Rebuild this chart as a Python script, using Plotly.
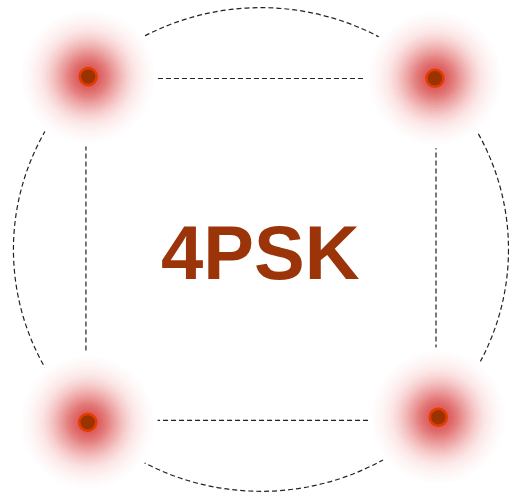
import math
import plotly.graph_objects as go

# ---- data ----
point_x = [-0.987, 0.994, -0.990, 1.013]
point_y = [1.011, 1.001, -1.011, -0.981]
ideal_x = [-1, 1, 1, -1]
ideal_y = [1, 1, -1, -1]
circle_radius = math.sqrt(2)
label = "4PSK"

# ---- styles ----
RED = (214, 40, 40)
N = 32
RMAX = 66.0
SIGMA = 23.5
AMP = 0.80

fig = go.Figure()

fig.add_shape(type="circle", xref="x", yref="y",
              x0=-circle_radius, x1=circle_radius, y0=-circle_radius, y1=circle_radius,
              line=dict(color="#222", width=1.2, dash="5px,3px"), layer="below")
sq_x = ideal_x + [ideal_x[0]]
sq_y = ideal_y + [ideal_y[0]]
fig.add_trace(go.Scatter(x=sq_x, y=sq_y, mode="lines",
                         line=dict(color="#222", width=1.2, dash="5px,3px"),
                         hoverinfo="skip"))

# white occluding disks
fig.add_trace(go.Scatter(x=point_x, y=point_y, mode="markers",
                         marker=dict(size=140, color="white", line=dict(width=0)),
                         hoverinfo="skip"))

def cov(r):
    return AMP * math.exp(-r * r / (2 * SIGMA * SIGMA))

radii = [RMAX * k / N for k in range(1, N + 1)]
T_next = 1.0
alphas = [0.0] * N
for k in range(N - 1, -1, -1):
    r_in = radii[k - 1] if k > 0 else 0.0
    mid = 0.5 * (r_in + radii[k])
    T_band = 1 - cov(mid)
    alphas[k] = 1 - T_band / T_next
    T_next = T_band

for k in range(N - 1, -1, -1):
    a = max(0.0, min(1.0, alphas[k]))
    fig.add_trace(go.Scatter(x=point_x, y=point_y, mode="markers",
                             marker=dict(size=2 * radii[k],
                                         color=f"rgba({RED[0]},{RED[1]},{RED[2]},{a:.4f})",
                                         line=dict(width=0)),
                             hoverinfo="skip"))

fig.add_trace(go.Scatter(x=point_x, y=point_y, mode="markers",
                         marker=dict(size=17, color="#9A3300",
                                     line=dict(color="#E23D00", width=2.6)),
                         hoverinfo="skip"))

fig.add_annotation(x=0, y=0, xref="x", yref="y", text=f"<b>{label}</b>",
                   showarrow=False, yshift=-3,
                   font=dict(family="Liberation Sans, Arial, sans-serif", size=76, color="#9C340A"))

fig.update_layout(width=509, height=494, margin=dict(l=0, r=0, t=0, b=0),
                  paper_bgcolor="white", plot_bgcolor="white", showlegend=False,
                  hovermode=False,
                  xaxis=dict(range=[-1.491, 1.417], visible=False, fixedrange=True),
                  yaxis=dict(range=[-1.430, 1.459], visible=False, fixedrange=True))

fig.write_html("out.html", config={"displayModeBar": False, "staticPlot": True},
               post_script="document.body.style.margin='0';document.body.style.overflow='hidden';")
